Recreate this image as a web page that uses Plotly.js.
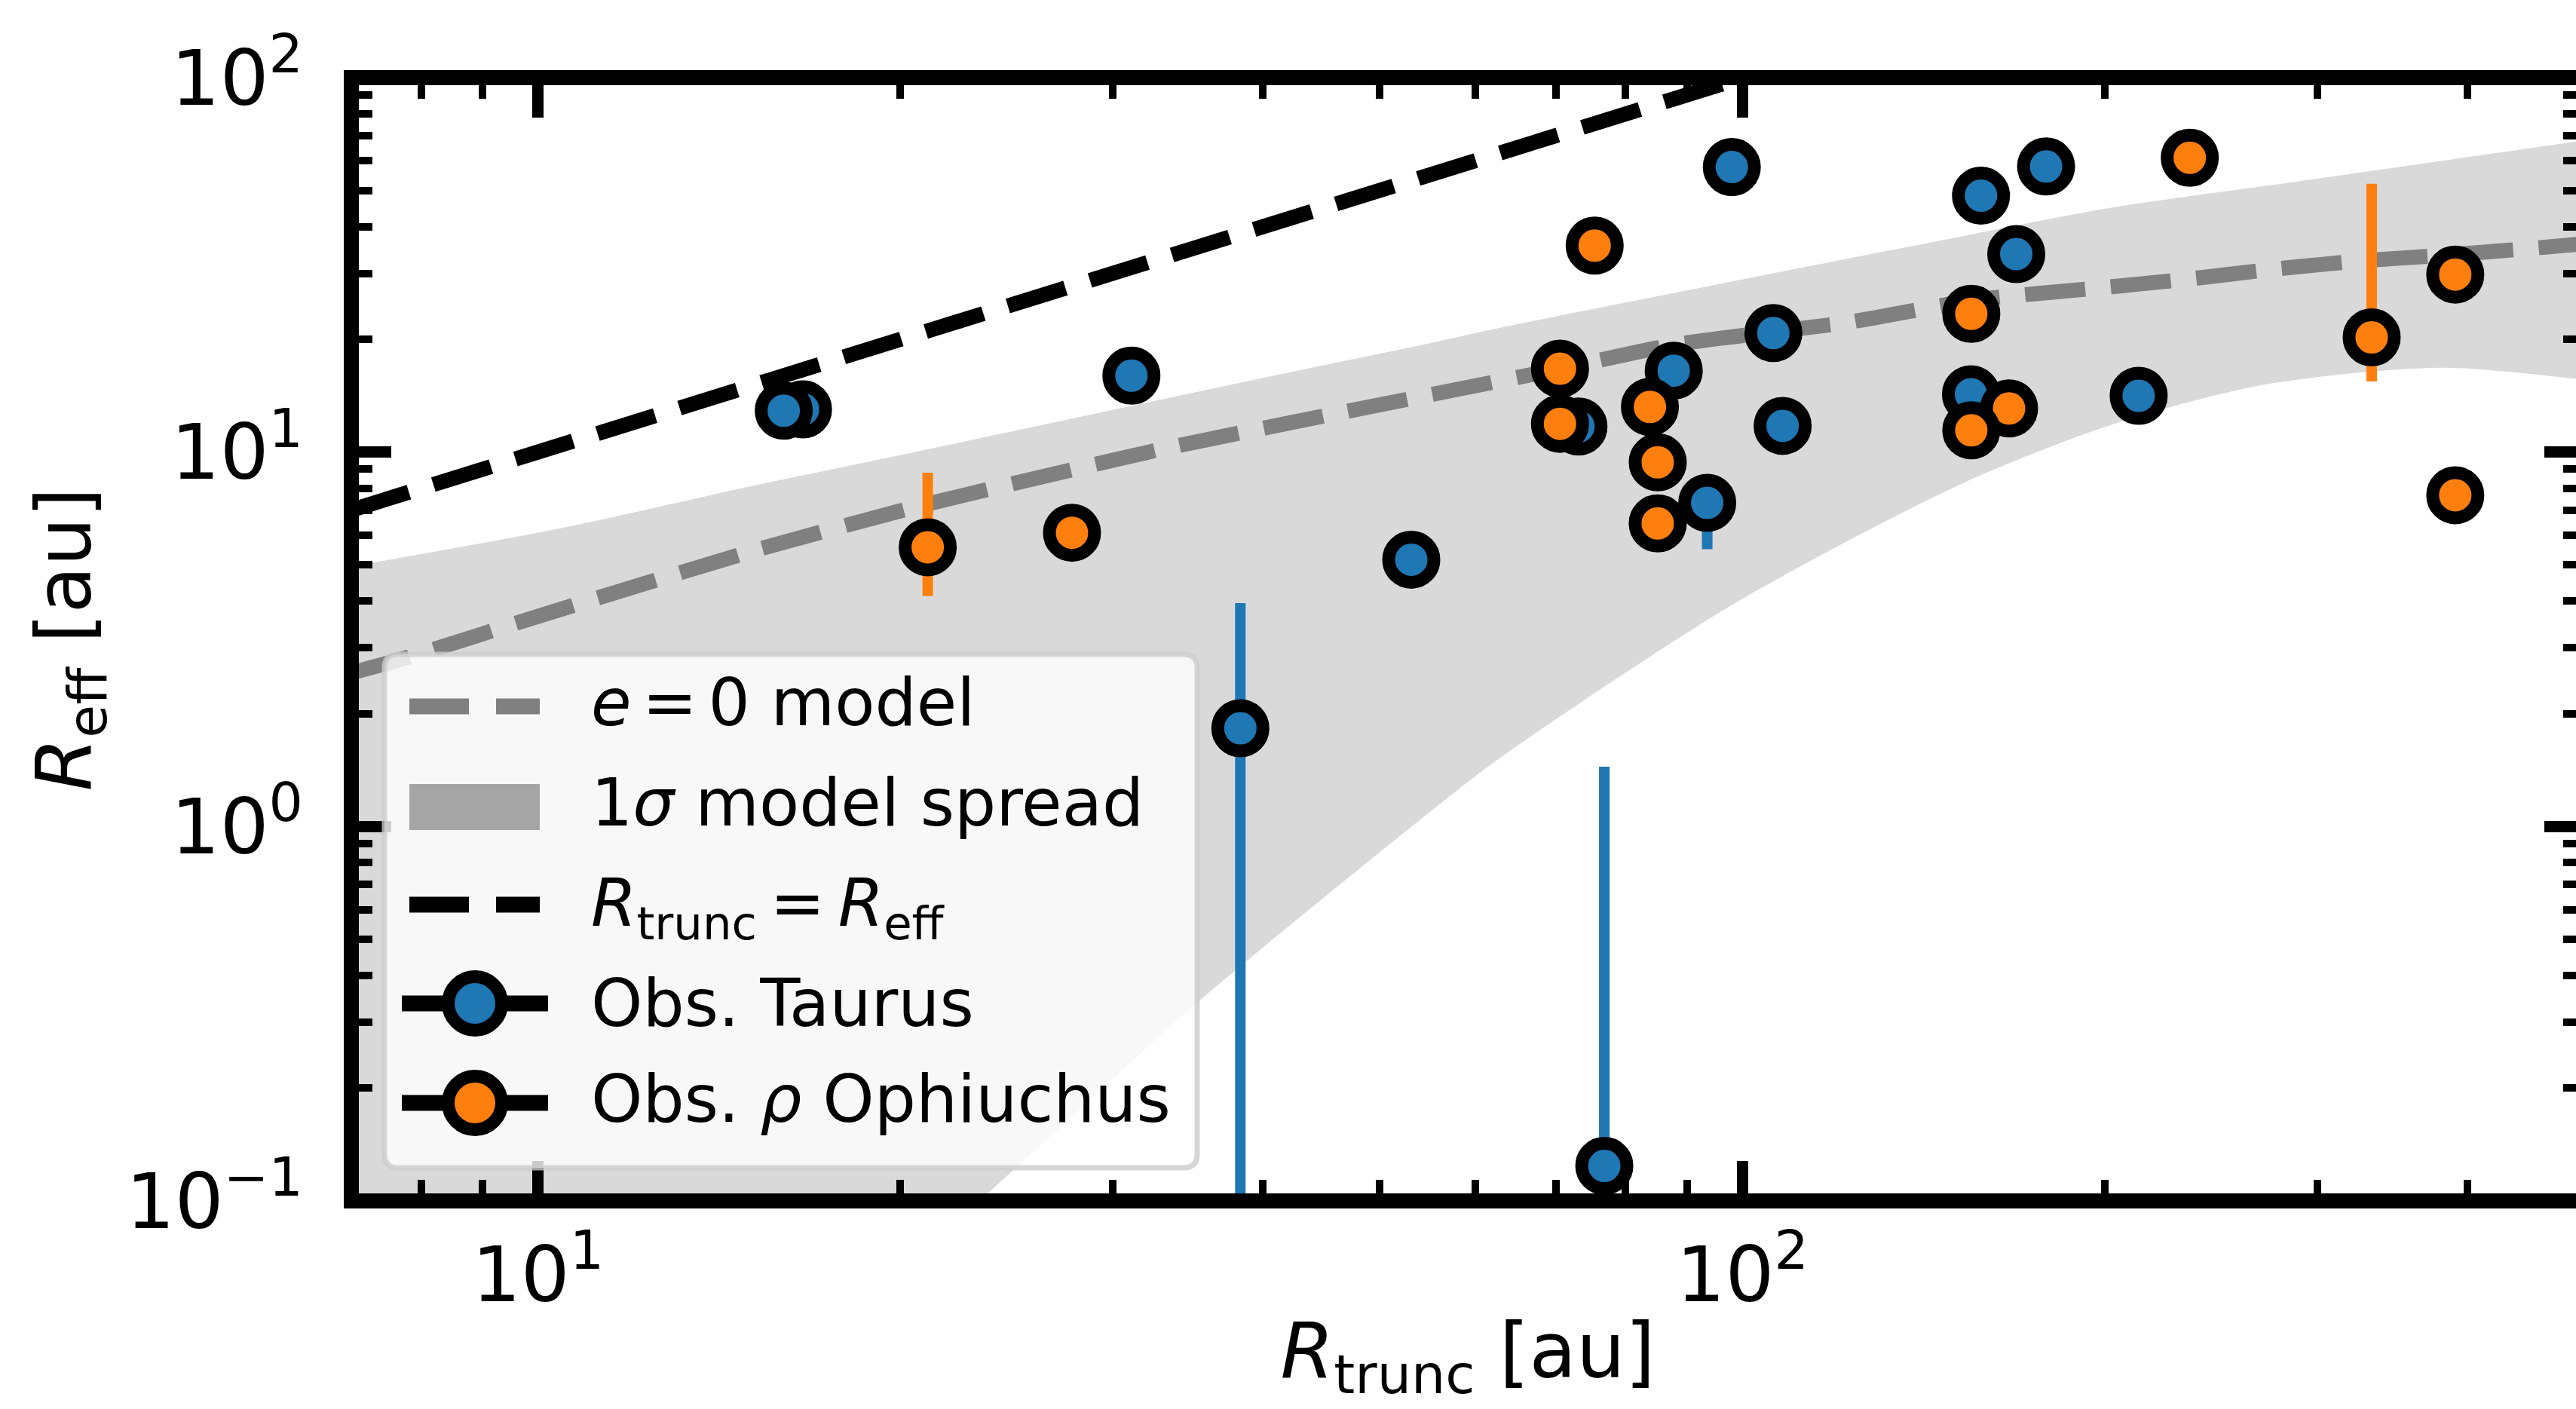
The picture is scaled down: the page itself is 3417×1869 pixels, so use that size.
<!DOCTYPE html>
<html>
<head>
<meta charset="utf-8">
<script src="https://cdn.plot.ly/plotly-3.0.1.min.js"></script>
<style>
html, body { margin:0; padding:0; overflow:hidden; background:#ffffff; }
#wrap { width:3417px; height:1869px; overflow:hidden; position:relative; }
#chart { width:3470px; height:1920px; }
</style>
</head>
<body>
<div id="wrap"><div id="chart"></div></div>
<script>
// ---------------- data ----------------
const taurusRtrunc = [16.6, 16.0, 31.1, 38.3, 53.1, 73.1, 76.8, 87.7, 93.5, 98.0, 106.1, 108.0, 154.8, 157.8, 168.8, 178.7, 213.3];
const taurusReff   = [13.0, 12.9, 16.0, 1.83, 5.16, 11.7, 0.124, 16.5, 7.32, 57.7, 20.8, 11.75, 14.27, 48.4, 33.8, 57.9, 14.14];
const taurusReffLo = [null, null, null, 0.01, null, null, 0.01, null, 5.5, null, null, null, null, null, null, null, null];
const taurusReffHi = [null, null, null, 3.95, null, null, 1.445, null, 8.6, null, null, null, null, null, null, null, null];

const ophRtrunc = [21.07, 27.76, 70.56, 70.56, 75.4, 83.8, 85.06, 85.06, 154.9, 166.5, 154.9, 235.2, 333.0, 390.7, 390.7];
const ophReff   = [5.57, 6.09, 16.7, 11.9, 35.6, 13.2, 9.39, 6.45, 23.4, 13.08, 11.43, 61.1, 20.25, 29.8, 7.67];
const ophReffLo = [4.13, null, null, null, null, null, null, null, null, null, null, null, 15.44, null, null];
const ophReffHi = [8.81, null, null, null, null, null, null, null, null, null, null, null, 52.1, null, null];

const modelRtrunc = [7.0, 7.8, 10, 15.1, 20.7, 28.5, 33.5, 45, 69.4, 88.2, 122.3, 156.1, 199.3, 235.1, 276.2, 325.8, 384.2, 451.6, 500];
const modelReff   = [2.57, 2.83, 3.64, 5.45, 7.17, 9.15, 10.3, 12.5, 16.5, 19.4, 22.2, 25.5, 27.5, 29.0, 30.8, 32.4, 33.6, 35.0, 36.0];

const spreadUpRtrunc = [7.0, 10.5, 15.1, 20.2, 38.6, 55.3, 63.9, 151.6, 202.1, 300, 500];
const spreadUpReff   = [4.95, 6.28, 8.13, 9.88, 15.4, 19.6, 21.7, 37.6, 44.9, 53.7, 68.0];
const spreadLoRtrunc = [7, 10, 15, 20, 24.9, 35.4, 57.8, 63.9, 98.6, 151.6, 202.1, 270, 378.6, 500];
const spreadLoReff   = [0.0022, 0.0072, 0.0275, 0.064, 0.122, 0.342, 1.24, 1.58, 3.95, 8.19, 11.8, 15.1, 16.8, 15.6];

const equalRtrunc = [7, 500];
const equalReff   = [7, 500];

const xLimits = [7, 500];
const yLimits = [0.1, 100];
const xTickVals = [10, 100];
const xTickText = ['10<sup>1</sup>', '10<sup>2</sup>'];
const xMinorVals = [8, 9, 20, 30, 40, 50, 60, 70, 80, 90, 200, 300, 400];
const yTickVals = [0.1, 1, 10, 100];
const yTickText = ['10<sup>\u22121</sup>', '10<sup>0</sup>', '10<sup>1</sup>', '10<sup>2</sup>'];
const yMinorVals = [0.2, 0.3, 0.4, 0.5, 0.6, 0.7, 0.8, 0.9, 2, 3, 4, 5, 6, 7, 8, 9, 20, 30, 40, 50, 60, 70, 80, 90];

const legendLabels = ['<i>e</i>\u2006=\u20060 model', '1<i>\u03c3</i> model spread', '<i>R</i><sub>trunc</sub>\u2009=\u2009<i>R</i><sub>eff</sub>', 'Obs. Taurus', 'Obs. <i>\u03c1</i> Ophiuchus'];

// ---------------- styling ----------------
const FONT = 'DejaVu Sans, Liberation Sans, sans-serif';
const BLUE = '#1f77b4', ORANGE = '#ff7f0e';
const W = 3470, H = 1920;
const M = {l: 466, r: 42, t: 103, b: 327};
const PW = W - M.l - M.r, PH = H - M.t - M.b;
const px = x => (x - M.l) / PW;
const py = y => 1 - (y - M.t) / PH;

function errPlus(v, hi) { return v.map((y, i) => hi[i] == null ? NaN : hi[i] - y); }
function errMinus(v, lo) { return v.map((y, i) => lo[i] == null ? NaN : y - lo[i]); }

const MARK = {size: 60, line: {color: '#000', width: 17}};

const traces = [
  {x: spreadLoRtrunc, y: spreadLoReff, mode: 'lines', line: {width: 0, shape: 'spline', smoothing: 0.8}, hoverinfo: 'skip', showlegend: false},
  {x: spreadUpRtrunc, y: spreadUpReff, mode: 'lines', fill: 'tonexty', fillcolor: '#d9d9d9', line: {width: 0, shape: 'spline', smoothing: 0.8}, hoverinfo: 'skip', showlegend: false},
  {x: modelRtrunc, y: modelReff, mode: 'lines', line: {color: '#808080', width: 20, dash: '80px,34px', shape: 'spline', smoothing: 0.6}, showlegend: false},
  {x: equalRtrunc, y: equalReff, mode: 'lines', line: {color: '#000000', width: 20, dash: '80px,34px'}, showlegend: false},
  {x: taurusRtrunc, y: taurusReff, mode: 'markers', marker: Object.assign({color: BLUE}, MARK),
   error_y: {type: 'data', symmetric: false, array: errPlus(taurusReff, taurusReffHi), arrayminus: errMinus(taurusReff, taurusReffLo), color: BLUE, thickness: 14, width: 0},
   showlegend: false},
  {x: ophRtrunc, y: ophReff, mode: 'markers', marker: Object.assign({color: ORANGE}, MARK),
   error_y: {type: 'data', symmetric: false, array: errPlus(ophReff, ophReffHi), arrayminus: errMinus(ophReff, ophReffLo), color: ORANGE, thickness: 14, width: 0},
   showlegend: false}
];

function roundRect(x0, y0, x1, y1, r) {
  const P = (x, y) => px(x) + ',' + py(y);
  return 'M' + P(x0 + r, y0) + ' L' + P(x1 - r, y0) + ' Q' + P(x1, y0) + ' ' + P(x1, y0 + r) +
         ' L' + P(x1, y1 - r) + ' Q' + P(x1, y1) + ' ' + P(x1 - r, y1) +
         ' L' + P(x0 + r, y1) + ' Q' + P(x0, y1) + ' ' + P(x0, y1 - r) +
         ' L' + P(x0, y0 + r) + ' Q' + P(x0, y0) + ' ' + P(x0 + r, y0) + ' Z';
}
const rowY = [937, 1070, 1200, 1331, 1463];
const textY = [931.6, 1064.6, 1203.5, 1331, 1458.4];
const hx0 = 543, hx1 = 716, hxc = 630;
const shapes = [
  {type: 'rect', xref: 'paper', yref: 'paper', x0: 0, x1: 1, y0: 0, y1: 1, line: {color: '#000', width: 20}, fillcolor: 'rgba(0,0,0,0)', layer: 'above'},
  {type: 'path', xref: 'paper', yref: 'paper', path: roundRect(510, 868, 1588, 1549, 18),
   fillcolor: 'rgba(255,255,255,0.8)', line: {color: 'rgba(204,204,204,0.8)', width: 7}, layer: 'above'},
  {type: 'line', xref: 'paper', yref: 'paper', x0: px(hx0), x1: px(hx1), y0: py(rowY[0]), y1: py(rowY[0]),
   line: {color: '#808080', width: 21, dash: '79px,36px'}, layer: 'above'},
  {type: 'rect', xref: 'paper', yref: 'paper', x0: px(hx0), x1: px(hx1), y0: py(1040), y1: py(1101),
   fillcolor: '#a5a5a5', line: {width: 0}, layer: 'above'},
  {type: 'line', xref: 'paper', yref: 'paper', x0: px(hx0), x1: px(hx1), y0: py(rowY[2]), y1: py(rowY[2]),
   line: {color: '#000000', width: 21, dash: '79px,36px'}, layer: 'above'},
];
[[rowY[3], BLUE], [rowY[4], ORANGE]].forEach(([yy, col]) => {
  shapes.push({type: 'line', xref: 'paper', yref: 'paper', x0: px(533), x1: px(727), y0: py(yy), y1: py(yy),
               line: {color: '#000', width: 21}, layer: 'above'});
  shapes.push({type: 'circle', xref: 'paper', yref: 'paper', x0: px(hxc - 35.5), x1: px(hxc + 35.5), y0: py(yy + 35.5), y1: py(yy - 35.5),
               fillcolor: col, line: {color: '#000', width: 17}, layer: 'above'});
});
const annotations = legendLabels.map((t, i) => ({
  text: t, xref: 'paper', yref: 'paper', x: px(784), y: py(textY[i]), xanchor: 'left', yanchor: 'middle',
  showarrow: false, borderpad: 0, borderwidth: 0, font: {family: FONT, size: 87, color: '#000'}
}));

const axisCommon = {
  type: 'log', ticks: 'inside', ticklen: 53, tickwidth: 15, tickcolor: '#000',
  showline: false, mirror: 'allticks',
  showgrid: false, zeroline: false, tickmode: 'array',
  tickfont: {family: FONT, size: 102, color: '#000'},
};
const minorCommon = {tickmode: 'array', ticks: 'inside', ticklen: 28, tickwidth: 10, tickcolor: '#000', showgrid: false};

const layout = {
  width: W, height: H, autosize: false,
  margin: M, paper_bgcolor: '#ffffff', plot_bgcolor: '#ffffff',
  font: {family: FONT, color: '#000'},
  showlegend: false,
  xaxis: Object.assign({}, axisCommon, {
    range: xLimits.map(Math.log10), tickvals: xTickVals, ticktext: xTickText, ticklabelstandoff: 30,
    minor: Object.assign({tickvals: xMinorVals}, minorCommon),
    title: {text: '<i>R</i><sub>trunc</sub> [au]', font: {family: FONT, size: 102, color: '#000'}, standoff: 6}
  }),
  yaxis: Object.assign({}, axisCommon, {
    range: yLimits.map(Math.log10), tickvals: yTickVals, ticktext: yTickText, ticklabelstandoff: 63,
    minor: Object.assign({tickvals: yMinorVals}, minorCommon),
    title: {text: '<i>R</i><sub>eff</sub> [au]', font: {family: FONT, size: 102, color: '#000'}, standoff: 12}
  }),
  shapes: shapes,
  annotations: annotations
};

const SVGNS = 'http://www.w3.org/2000/svg';

Plotly.newPlot('chart', traces, layout, {staticPlot: true, displayModeBar: false}).then(() => {
  // 1) drop the zero-width baseline-reset spans Plotly leaves after <sup>/<sub>
  document.querySelectorAll('#chart svg tspan').forEach(t => {
    if (t.textContent !== '\u200b') return;
    let nx = t.nextSibling;
    while (nx && nx.nodeType === 3 && nx.textContent === '') { const n2 = nx.nextSibling; nx.remove(); nx = n2; }
    if (!nx) { t.remove(); }
    else if (nx.nodeType === 3) { t.textContent = nx.textContent; nx.remove(); }
  });
  // 2) re-emit texts with raised/lowered runs as plain runs with explicit pixel sizes, at the positions Plotly laid out
  Array.from(document.querySelectorAll('#chart svg text')).forEach(t => {
    if (!t.querySelector('tspan')) return;
    const runs = [];
    let idx = 0, ok = true;
    Array.from(t.childNodes).forEach(node => {
      const s = node.textContent;
      if (!s.length) return;
      let pos = null;
      try { pos = t.getStartPositionOfChar(idx); } catch (e) { ok = false; }
      const cs = getComputedStyle(node.nodeType === 1 ? node : t);
      if (pos) runs.push({s: s, x: pos.x, y: pos.y, size: cs.fontSize, fst: cs.fontStyle, fill: cs.fill, fam: cs.fontFamily});
      idx += s.length;
    });
    if (!ok || !runs.length) return;
    const parent = t.parentNode;
    const tr = t.getAttribute('transform');
    runs.forEach(r => {
      const e = document.createElementNS(SVGNS, 'text');
      e.setAttribute('x', r.x);
      e.setAttribute('y', r.y);
      if (tr) e.setAttribute('transform', tr);
      e.setAttribute('text-anchor', 'start');
      e.setAttribute('font-size', r.size);
      e.setAttributeNS('http://www.w3.org/XML/1998/namespace', 'xml:space', 'preserve');
      e.setAttribute('style', 'font-family:' + r.fam + ';font-size:' + r.size + ';font-style:' + r.fst + ';fill:' + r.fill + ';white-space:pre;');
      e.setAttribute('class', t.getAttribute('class') || '');
      e.textContent = r.s;
      parent.insertBefore(e, t);
    });
    parent.removeChild(t);
  });
});
</script>
</body>
</html>
